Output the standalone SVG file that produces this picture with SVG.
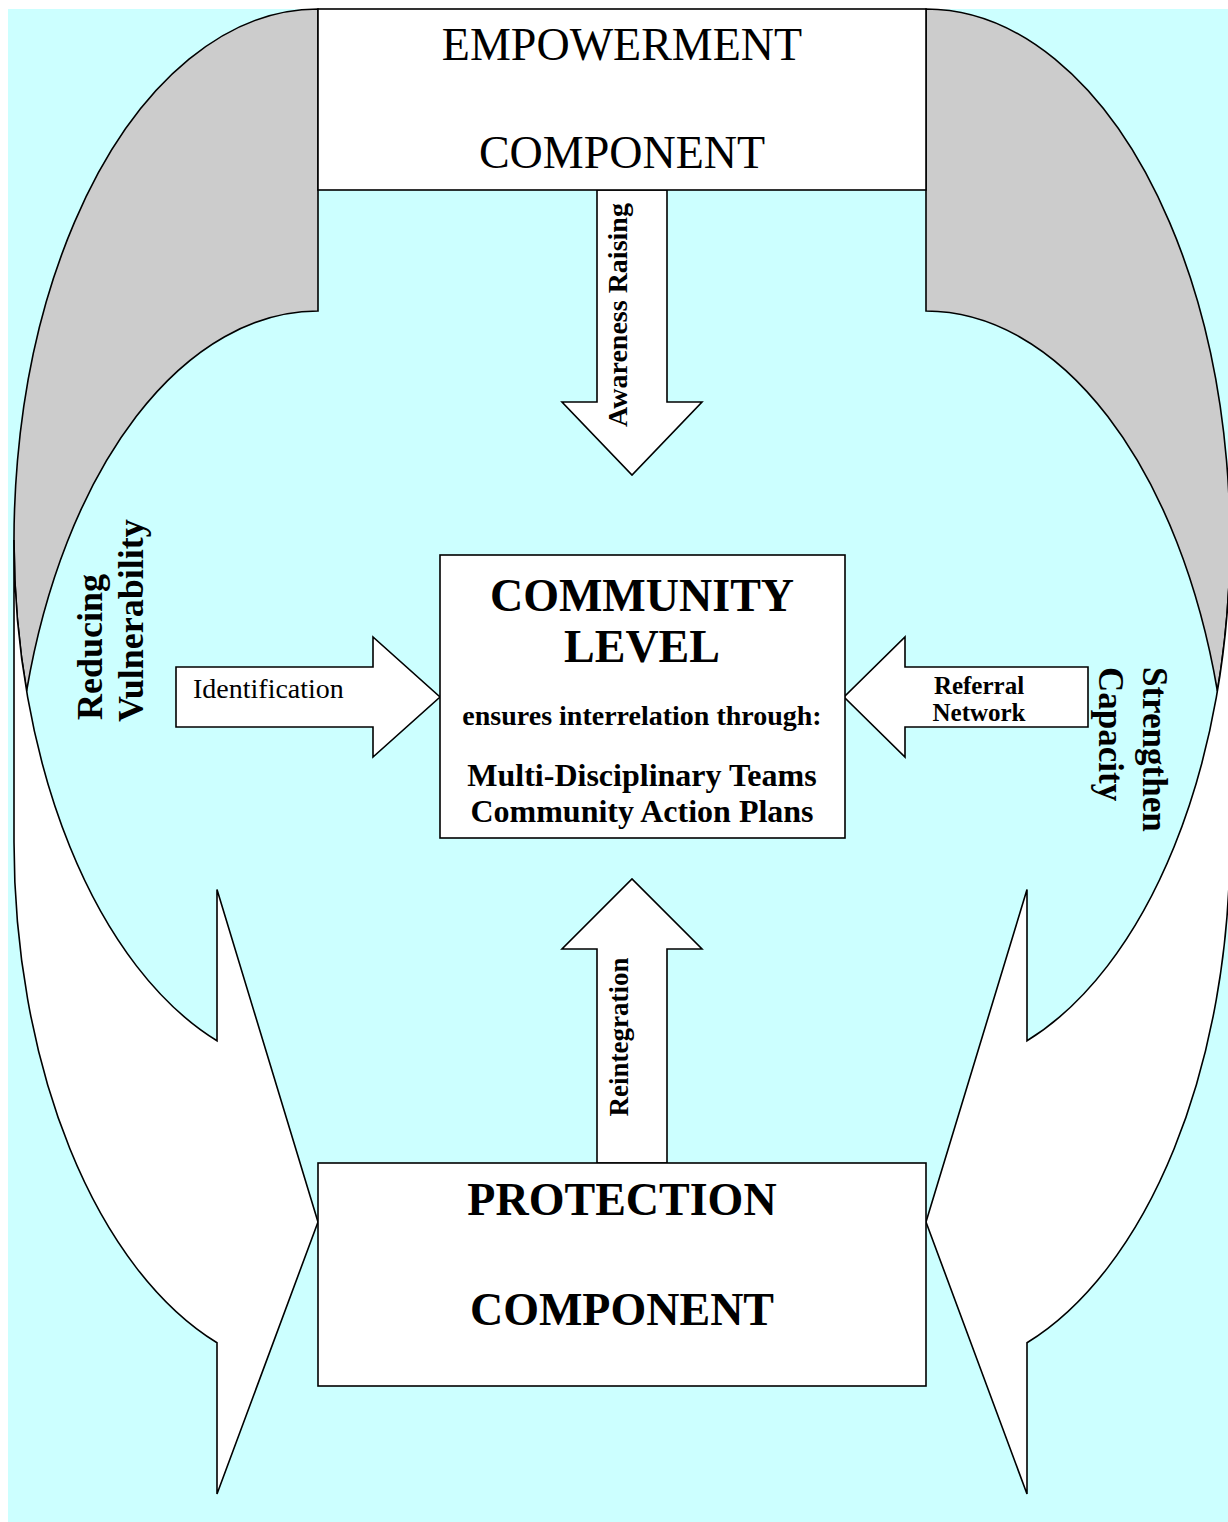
<svg xmlns="http://www.w3.org/2000/svg" width="1228" height="1522" viewBox="0 0 1228 1522">
<style>
.ln{stroke:#000;stroke-width:1.6;stroke-linejoin:miter}
.wh{fill:#fff}
.gr{fill:#ccc}
.t{font-family:"Liberation Serif","Times New Roman",serif;fill:#000}
.b{font-weight:bold}
</style>
<rect x="8" y="9" width="1220" height="1513" fill="#ccffff"/>
<g id="left-curved-arrow">
<path class="ln gr" d="M318 9 A304 531 0 0 0 26.6 691 A304 531 0 0 1 318 311 Z"/>
<path class="ln wh" d="M14 540 A304 531 0 0 0 217 1040.8 L217 889.5 L318 1222 L217 1494 L217 1342.8 A304 531 0 0 1 14 842 Z"/>
</g>
<g id="right-curved-arrow">
<path class="ln gr" d="M926 9 A304 531 0 0 1 1217.4 691 A304 531 0 0 0 926 311 Z"/>
<path class="ln wh" d="M1230 540 A304 531 0 0 1 1027 1040.8 L1027 889.5 L926 1222 L1027 1494 L1027 1342.8 A304 531 0 0 0 1230 842 Z"/>
</g>
<g id="connectors">
<g id="awareness-raising">
<polygon class="ln wh" points="597,190 667,190 667,402 702,402 632,475 562,402 597,402"/>
<text class="t b" font-size="28" text-anchor="middle" transform="translate(627,315) rotate(-90)">Awareness Raising</text>
</g>
<g id="reintegration">
<polygon class="ln wh" points="597,1163 667,1163 667,949 702,949 632,879 562,949 597,949"/>
<text class="t b" font-size="27" text-anchor="middle" transform="translate(628,1037) rotate(-90)">Reintegration</text>
</g>
<g id="identification">
<polygon class="ln wh" points="176,667 373,667 373,637 440,697 373,757 373,727 176,727"/>
<text class="t" font-size="28" x="193" y="698">Identification</text>
</g>
<g id="referral-network">
<polygon class="ln wh" points="1088,667 905,667 905,637 844,697 905,757 905,727 1088,727"/>
<text class="t b" font-size="25" text-anchor="middle" x="979" y="694">Referral</text>
<text class="t b" font-size="25" text-anchor="middle" x="979" y="721">Network</text>
</g>
</g>
<g id="empowerment">
<rect class="ln wh" x="318" y="9" width="608" height="181"/>
<text class="t" font-size="46" text-anchor="middle" x="622" y="60">EMPOWERMENT</text>
<text class="t" font-size="46" text-anchor="middle" x="622" y="168">COMPONENT</text>
</g>
<g id="community">
<rect class="ln wh" x="440" y="555" width="405" height="283"/>
<text class="t b" font-size="46" text-anchor="middle" x="642" y="611">COMMUNITY</text>
<text class="t b" font-size="46" text-anchor="middle" x="642" y="662">LEVEL</text>
<text class="t b" font-size="28" text-anchor="middle" x="642" y="725">ensures interrelation through:</text>
<text class="t b" font-size="32" text-anchor="middle" x="642" y="786">Multi-Disciplinary Teams</text>
<text class="t b" font-size="32" text-anchor="middle" x="642" y="822">Community Action Plans</text>
</g>
<g id="protection">
<rect class="ln wh" x="318" y="1163" width="608" height="223"/>
<text class="t b" font-size="46" text-anchor="middle" x="622" y="1215">PROTECTION</text>
<text class="t b" font-size="46" text-anchor="middle" x="622" y="1325">COMPONENT</text>
</g>
<g id="side-labels">
<text class="t b" font-size="36" transform="translate(102,720) rotate(-90)">Reducing</text>
<text class="t b" font-size="36" transform="translate(143,722) rotate(-90)">Vulnerability</text>
<text class="t b" font-size="35" transform="translate(1143,667) rotate(90)">Strengthen</text>
<text class="t b" font-size="35" transform="translate(1099,667) rotate(90)">Capacity</text>
</g>
</svg>
